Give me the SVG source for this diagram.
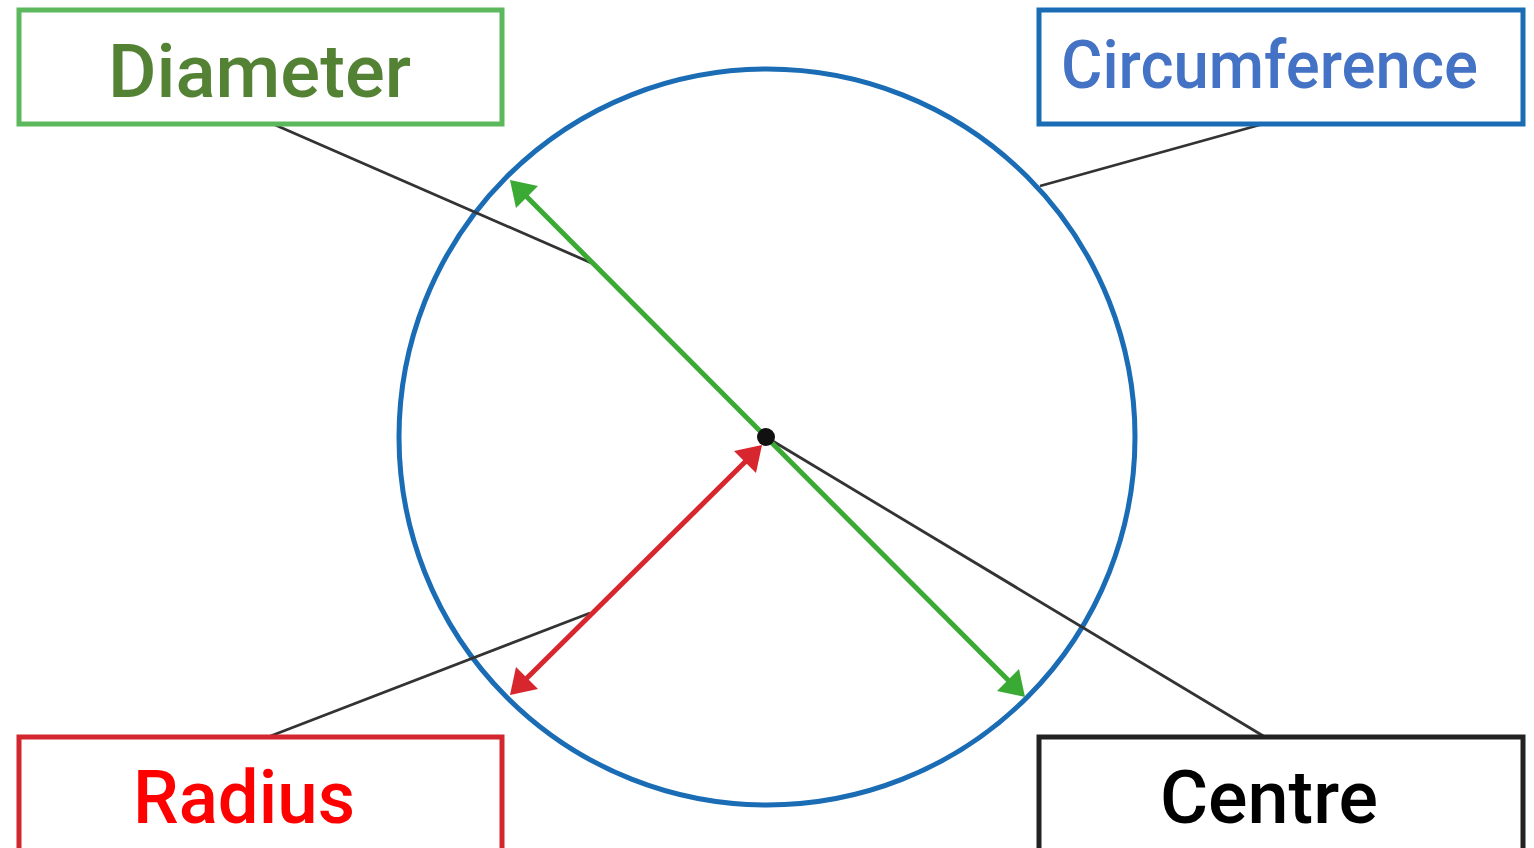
<svg xmlns="http://www.w3.org/2000/svg" width="1534" height="848" viewBox="0 0 1534 848">
<style>
.box{fill:#fff;stroke-width:5}
.lbl{font-family:Roboto,"Liberation Sans",sans-serif;font-weight:500}
.leader{stroke:#333;stroke-width:2.8;fill:none}
.green{fill:#3aaa35}
.red{fill:#d7262e}
</style>
<rect width="1534" height="848" fill="#fff"/>
<g id="circle-node">
<circle cx="767" cy="437" r="368" fill="none" stroke="#1a6cb5" stroke-width="5"/>
</g>
<g id="connectors">
<line class="leader" x1="273" y1="124" x2="596" y2="265"/>
<line class="leader" x1="1263" y1="124" x2="1040" y2="186"/>
<line class="leader" x1="268" y1="737" x2="590" y2="613"/>
<line class="leader" x1="766" y1="437" x2="1265" y2="737"/>
<line x1="524" y1="194" x2="1011" y2="683" stroke="#3aaa35" stroke-width="5"/>
<path class="green" d="M510,180 L538,186 L516,208 Z"/>
<path class="green" d="M1025,697 L997,691 L1019,669 Z"/>
<line x1="526" y1="679" x2="748" y2="459" stroke="#d7262e" stroke-width="5"/>
<path class="red" d="M510,695 L516,667 L538,689 Z"/>
<path class="red" d="M762,445 L756,473 L734,451 Z"/>
</g>
<g id="centre-dot"><circle cx="766" cy="437" r="9" fill="#111"/></g>
<g id="diameter">
<rect class="box" x="19" y="10" width="483" height="114" stroke="#5cb85c"/>
<text class="lbl" x="108" y="97" font-size="75" fill="#548235" textLength="303" lengthAdjust="spacingAndGlyphs">Diameter</text>
</g>
<g id="circumference">
<rect class="box" x="1039" y="10" width="484" height="114" stroke="#1a6cb5"/>
<text class="lbl" x="1061" y="88" font-size="66" fill="#4472c4" textLength="417" lengthAdjust="spacingAndGlyphs">Circumference</text>
</g>
<g id="radius">
<rect class="box" x="19" y="737" width="483" height="116" stroke="#d4262f"/>
<text class="lbl" x="133" y="823" font-size="75" fill="#ff0000" textLength="222" lengthAdjust="spacingAndGlyphs">Radius</text>
</g>
<g id="centre">
<rect class="box" x="1039" y="737" width="484" height="116" stroke="#222"/>
<text class="lbl" x="1160" y="823" font-size="75" fill="#000" textLength="218" lengthAdjust="spacingAndGlyphs">Centre</text>
</g>
</svg>
